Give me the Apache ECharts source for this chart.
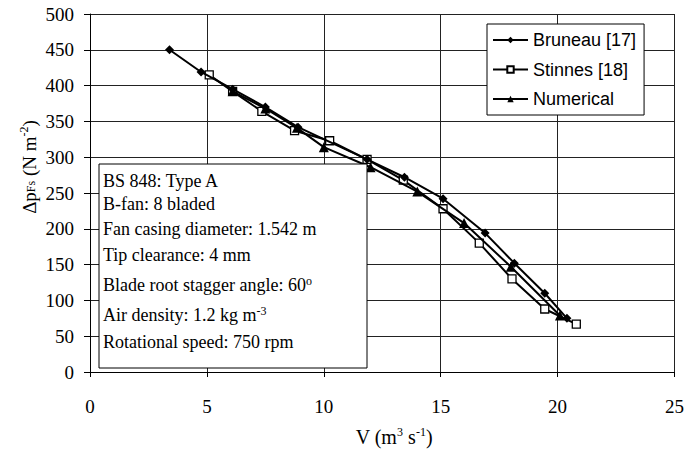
<!DOCTYPE html>
<html>
<head>
<meta charset="utf-8">
<script src="https://cdn.jsdelivr.net/npm/echarts@6/dist/echarts.min.js"></script>
<style>html,body{margin:0;padding:0;background:#fff}#c{width:687px;height:453px}</style>
</head>
<body>
<div id="c"></div>
<script>
const xTicks = [0, 5, 10, 15, 20, 25];
const yTicks = [0, 50, 100, 150, 200, 250, 300, 350, 400, 450, 500];

const bruneauV = [3.4, 4.75, 6.1, 7.5, 8.9, 11.85, 13.45, 15.1, 16.9, 18.15, 19.45, 20.4];
const bruneauP = [450, 419, 395, 370, 342, 297, 272, 242, 194, 152, 110, 75];

const stinnesV = [5.1, 6.1, 7.35, 8.75, 10.25, 11.85, 13.4, 15.1, 16.65, 18.05, 19.45, 20.8];
const stinnesP = [415, 392, 364, 337, 323, 297, 268, 228, 180, 130, 88, 67];

const numericalV = [6.1, 7.5, 8.85, 10.0, 12.0, 14.0, 16.0, 18.0, 20.1];
const numericalP = [392, 368, 341, 314, 286, 252, 208, 147, 79];

const legendNames = ['Bruneau [17]', 'Stinnes [18]', 'Numerical'];
const infoLines = [
  'BS 848: Type A',
  'B-fan: 8 bladed',
  'Fan casing diameter: 1.542 m',
  'Tip clearance: 4 mm',
  'Blade root stagger angle: 60{sup|o}',
  'Air density: 1.2 kg m{sup|-3}',
  'Rotational speed: 750 rpm'
];

const zip = (a, b) => a.map((v, i) => [v, b[i]]);
const serif = '"Liberation Serif", "Times New Roman", serif';

const chart = echarts.init(document.getElementById('c'), null, {renderer: 'svg'});

const infoY = [181, 204, 229, 255, 285, 315, 342];

chart.setOption({
  backgroundColor: '#fff',
  animation: false,
  grid: {left: 90, right: 12, top: 14, bottom: 81, containLabel: false},
  xAxis: {
    type: 'value', min: xTicks[0], max: xTicks[xTicks.length - 1], interval: 5,
    axisLine: {onZero: false, lineStyle: {color: '#000', width: 1}},
    axisTick: {show: true, inside: false, length: 5, lineStyle: {color: '#000'}},
    axisLabel: {margin: 25, color: '#000', fontFamily: serif, fontSize: 19},
    splitLine: {show: true, lineStyle: {color: '#222', width: 1}}
  },
  yAxis: {
    type: 'value', min: yTicks[0], max: yTicks[yTicks.length - 1], interval: 50,
    axisLine: {show: true, lineStyle: {color: '#000', width: 1}},
    axisTick: {show: true, inside: false, length: 6, lineStyle: {color: '#000'}},
    axisLabel: {margin: 16, color: '#000', fontFamily: serif, fontSize: 19},
    splitLine: {show: true, lineStyle: {color: '#222', width: 1}}
  },
  legend: {
    left: 487, top: 24, orient: 'vertical',
    data: legendNames,
    backgroundColor: '#fff',
    borderColor: '#000', borderWidth: 1,
    padding: [7, 8, 7, 5],
    itemWidth: 35, itemHeight: 8, itemGap: 11.5,
    textStyle: {fontFamily: '"Liberation Sans", Arial, sans-serif', fontSize: 18, color: '#000'}
  },
  series: [
    {
      name: legendNames[0], type: 'line', data: zip(bruneauV, bruneauP),
      symbol: 'diamond', symbolSize: 9,
      lineStyle: {color: '#000', width: 2},
      itemStyle: {color: '#000'}, z: 3
    },
    {
      name: legendNames[1], type: 'line', data: zip(stinnesV, stinnesP),
      symbol: 'rect', symbolSize: 8,
      lineStyle: {color: '#000', width: 2},
      itemStyle: {color: '#fff', borderColor: '#000', borderWidth: 1.3}, z: 2
    },
    {
      name: legendNames[2], type: 'line', data: zip(numericalV, numericalP),
      symbol: 'triangle', symbolSize: 10,
      lineStyle: {color: '#000', width: 2},
      itemStyle: {color: '#000'}, z: 4
    }
  ],
  graphic: [
    {
      type: 'rect', z: 100,
      shape: {x: 99, y: 164, width: 268, height: 204},
      style: {fill: '#fff', stroke: '#000', lineWidth: 1}
    },
    ...infoLines.map((t, i) => ({
      type: 'text', z: 101, x: 103, y: infoY[i],
      style: {
        text: t, fill: '#000',
        fontFamily: serif, fontSize: 18,
        align: 'left', verticalAlign: 'middle',
        rich: {sup: {fontSize: 12, fontFamily: serif, fill: '#000', padding: [0, 0, 9, 0]}}
      }
    })),
    {
      type: 'text', z: 101, x: 394, y: 437,
      style: {
        text: 'V (m{sup|3} s{sup|-1})', fill: '#000',
        fontFamily: serif, fontSize: 20,
        align: 'center', verticalAlign: 'middle',
        rich: {sup: {fontSize: 12, fontFamily: serif, fill: '#000', padding: [0, 0, 10, 0]}}
      }
    },
    {
      type: 'text', z: 101, x: 29, y: 167, rotation: Math.PI / 2,
      style: {
        text: 'Δp{sub|Fs} (N m{sup|-2})', fill: '#000',
        fontFamily: serif, fontSize: 19,
        align: 'center', verticalAlign: 'middle',
        rich: {
          sup: {fontSize: 12, fontFamily: serif, fill: '#000', padding: [0, 0, 10, 0]},
          sub: {fontSize: 12, fontFamily: serif, fill: '#000', padding: [4, 0, 0, 0]}
        }
      }
    }
  ]
});
</script>
</body>
</html>
